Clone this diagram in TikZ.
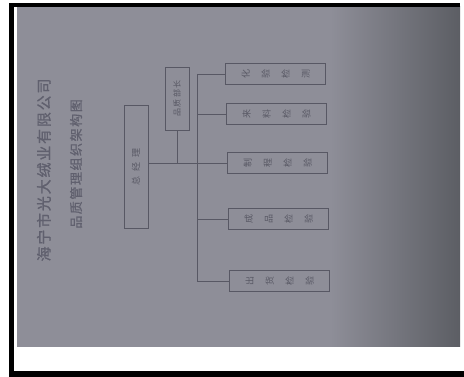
\documentclass[tikz,border=0pt]{standalone}
\usepackage{fontspec}
\usepackage{graphicx}
\usepackage{tikz}
\usetikzlibrary{calc,positioning}
\newfontfamily\cjk{Noto Sans CJK SC}
\definecolor{photoGray}{RGB}{142,142,152}
\definecolor{photoDark}{RGB}{92,94,100}
\definecolor{inkGray}{RGB}{88,88,100}
\definecolor{titleGray}{RGB}{96,96,110}
\newcommand{\vchars}[4]{\rotatebox{90}{\begin{tabular}{@{}c@{}}#1\\#2\\#3\\#4\end{tabular}}}

\begin{document}
\begin{tikzpicture}[x=1pt,y=-1pt,
  orgbox/.style={draw=inkGray, line width=0.8pt, inner sep=0pt, text=inkGray},
  deptbox/.style={orgbox, minimum width=100pt, minimum height=21pt, font=\cjk\fontsize{9}{20}\selectfont},
  link/.style={inkGray, line width=0.7pt}]
\useasboundingbox (0,0) rectangle (464,377);
% photo and frame
\fill[white] (0,0) rectangle (464,377);
\fill[photoGray] (17,7) rectangle (460,347);
\shade[left color=photoGray, right color=photoDark] (330,7) rectangle (460,347);
\fill[black] (9,3) rectangle (14,377);
\fill[black] (9,3) rectangle (460,7.5);
\fill[black] (9,371) rectangle (464,377);
% title
\node[rotate=90, text=titleGray, font=\cjk\fontsize{15}{15}\selectfont\addfontfeature{LetterSpace=12,FakeBold=1}] (company) at (44,170) {海宁市光大绒业有限公司};
\node[rotate=90, text=titleGray, font=\cjk\fontsize{13}{13}\selectfont\addfontfeature{LetterSpace=12,FakeBold=1}] (chart) at (76,164) {品质管理组织架构图};
% boxes
\node[orgbox, minimum width=24pt, minimum height=123pt, font=\cjk\fontsize{9}{9}\selectfont] (ceo) at (136,167) {\rotatebox{90}{总\hspace{5pt}经\hspace{5pt}理}};
\node[orgbox, minimum width=24pt, minimum height=63pt, font=\cjk\fontsize{8}{8}\selectfont] (qa) at (177,98.5) {\rotatebox{90}{品\hspace{1.5pt}质\hspace{1.5pt}部\hspace{1.5pt}长}};
\node[deptbox] (lab) at (275,74) {\vchars{化}{验}{检}{测}};
\node[deptbox] (iqc) at (276,114) {\vchars{来}{料}{检}{验}};
\node[deptbox] (ipqc) at (277,163) {\vchars{制}{程}{检}{验}};
\node[deptbox] (fqc) at (278,219) {\vchars{成}{品}{检}{验}};
\node[deptbox] (oqc) at (279,281) {\vchars{出}{货}{检}{验}};
% connectors
\coordinate (trunkTop) at (197,74);
\coordinate (trunkBot) at (197,281);
\draw[link] (trunkTop) -- (trunkBot);
\foreach \b in {lab,iqc,ipqc,fqc,oqc}
{
\draw[link] (\b.west) -- (\b.west -| trunkTop);
}
\draw[link] (ipqc.west) -- (ipqc.west -| ceo.east);
\draw[link] (qa.south) -- (qa.south |- ipqc.west);
\end{tikzpicture}
\end{document}
